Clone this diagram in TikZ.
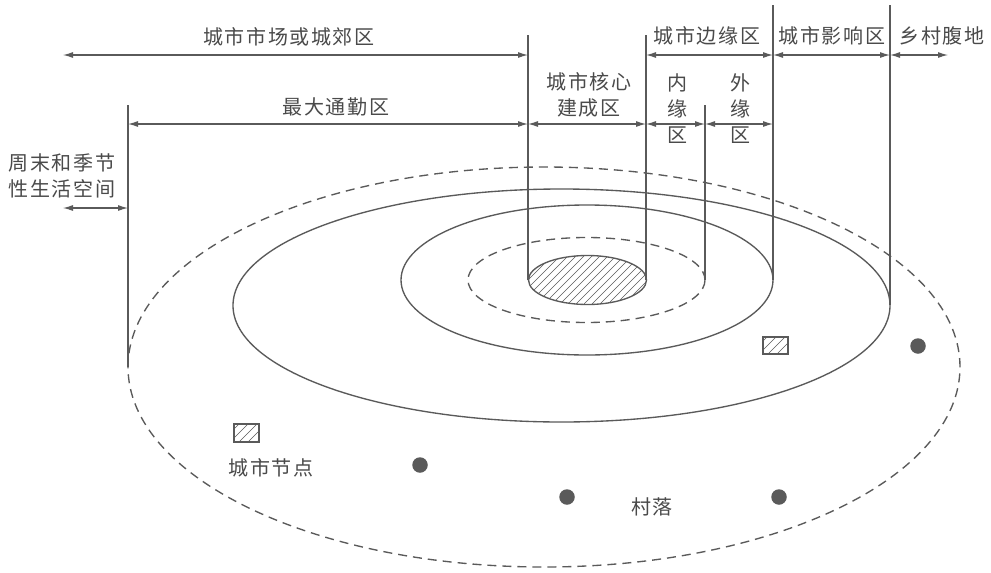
\documentclass[tikz,border=0pt]{standalone}
\usepackage{fontspec}
\newfontfamily\cjk[LetterSpace=8]{Noto Sans CJK SC}
\usetikzlibrary{arrows.meta}
\definecolor{lc}{HTML}{5A5A5A}
\definecolor{tc}{HTML}{4A4A4A}
\begin{document}
\begin{tikzpicture}[x=1pt,y=-1pt, color=lc, line width=1.35pt,
  lbl/.style={text=tc, font=\cjk\fontsize{20pt}{26pt}\selectfont, inner sep=0pt, align=center},
  dim/.style={{Latex[length=10pt,width=6pt]}-{Latex[length=10pt,width=6pt]}, line width=1.1pt},
  dashedline/.style={dash pattern=on 9pt off 6pt},
  hatch/.style={line width=0.6pt},
  dot/.style={circle, fill=lc, draw=none, minimum size=15.5pt, inner sep=0pt}]
\useasboundingbox (0,0) rectangle (991,573);
\fill[white] (0,0) rectangle (991,573);

% ellipses
\draw[dashedline] (544,367) ellipse [x radius=416pt, y radius=200pt];
\draw (561.5,305.5) ellipse [x radius=328.5pt, y radius=116.5pt];
\draw (587,280) ellipse [x radius=186pt, y radius=75pt];
\draw[dashedline] (586.5,280) ellipse [x radius=118.5pt, y radius=42.5pt];
\begin{scope}
  \clip (587.5,280) ellipse [x radius=59pt, y radius=24.5pt];
  \foreach \k in {440,448,...,720} { \draw[hatch] (\k,320) -- (\k+80,240); }
\end{scope}
\draw (587.5,280) ellipse [x radius=59pt, y radius=24.5pt];

% vertical lines
\coordinate (L1t) at (128,105); \coordinate (L1b) at (128,367);
\coordinate (L2t) at (528,35);  \coordinate (L2b) at (528,280);
\coordinate (L3t) at (646,35);  \coordinate (L3b) at (646,280);
\coordinate (L4t) at (705,105); \coordinate (L4b) at (705,280);
\coordinate (L5t) at (773,5);   \coordinate (L5b) at (773,280);
\coordinate (L6t) at (890,5);   \coordinate (L6b) at (890,305);
\draw (L1t) -- (L1b);
\draw (L2t) -- (L2b);
\draw (L3t) -- (L3b);
\draw (L4t) -- (L4b);
\draw (L5t) -- (L5b);
\draw (L6t) -- (L6b);

% dimension arrows row 1
\coordinate (a0) at (63,55); \coordinate (a1) at (528,55);
\coordinate (a2) at (646,55); \coordinate (a3) at (773,55);
\coordinate (a4) at (890,55); \coordinate (a5) at (948,55);
\draw[dim] (a0) -- (a1);
\draw[dim] (a2) -- (a3);
\draw[dim] (a3) -- (a4);
\draw[dim] (a4) -- (a5);
% row 2
\coordinate (b0) at (128,124); \coordinate (b1) at (528,124);
\coordinate (b2) at (646,124); \coordinate (b3) at (705,124);
\coordinate (b4) at (773,124);
\draw[dim] (b0) -- (b1);
\draw[dim] (b1) -- (b2);
\draw[dim] (b2) -- (b3);
\draw[dim] (b3) -- (b4);
% weekend
\coordinate (c0) at (63,208); \coordinate (c1) at (128,208);
\draw[dim] (c0) -- (c1);

% labels
\node[lbl] (t1) at (289,37) {城市市场或城郊区};
\node[lbl] (t2) at (707,36) {城市边缘区};
\node[lbl] (t3) at (832,36) {城市影响区};
\node[lbl] (t4) at (942,36) {乡村腹地};
\node[lbl] (t5) at (336,107) {最大通勤区};
\node[lbl] (t6) at (589,95) {城市核心\\建成区};
\node[lbl] (t7) at (677,109) {内\\缘\\区};
\node[lbl] (t8) at (740,109) {外\\缘\\区};
\node[lbl] (t9) at (62,176) {周末和季节\\性生活空间};
\node[lbl] (t10) at (271,468) {城市节点};
\node[lbl] (t11) at (652,507) {村落};

% urban nodes (hatched squares)
\draw (763,337) rectangle (788,354);
\begin{scope}
  \clip (763,337) rectangle (788,354);
  \foreach \k in {750,759,...,790} { \draw[hatch] (\k,354) -- (\k+17,337); }
\end{scope}
\draw (234,424) rectangle (259,442);
\begin{scope}
  \clip (234,424) rectangle (259,442);
  \foreach \k in {221,230,...,262} { \draw[hatch] (\k,442) -- (\k+18,424); }
\end{scope}

% villages
\node[dot] (v1) at (420,465) {};
\node[dot] (v2) at (567,497) {};
\node[dot] (v3) at (779,497) {};
\node[dot] (v4) at (918,346) {};
\end{tikzpicture}
\end{document}
